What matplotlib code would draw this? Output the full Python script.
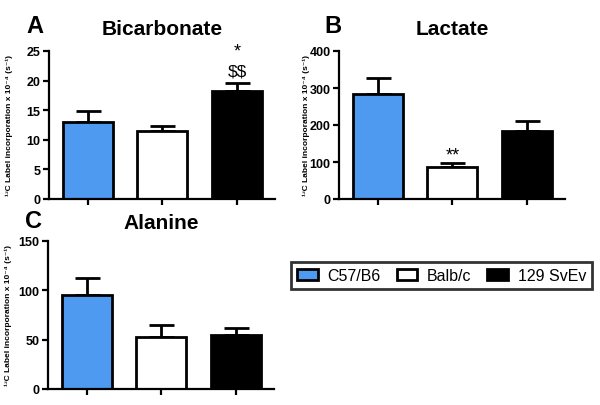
import matplotlib
matplotlib.use("Agg")
import matplotlib.pyplot as plt
from matplotlib.patches import Patch

plt.rcParams['font.family'] = ['Liberation Sans', 'DejaVu Sans']

strains = ['C57/B6', 'Balb/c', '129 SvEv']
colors = ['#4E9AF1', 'white', 'black']

bicarb = [13.0, 11.5, 18.2]
bicarb_err = [1.8, 0.8, 1.4]
lactate = [284, 87, 184]
lactate_err = [43, 10, 26]
alanine = [95, 53, 55]
alanine_err = [17, 12, 7]

ylabel = '¹³C Label incorporation x 10⁻⁴ (s⁻¹)'

fig = plt.figure(figsize=(6, 4.06), dpi=100)
W, H = 600, 406


def px_axes(l, t, r, b):
    return fig.add_axes([l / W, 1 - b / H, (r - l) / W, (b - t) / H])


def panel(ax, vals, errs, ymax, step, title, letter, letter_x, letter_y, tpad):
    x = range(len(vals))
    ax.bar(x, vals, width=0.67, color=colors, edgecolor='black', linewidth=2, zorder=2)
    ax.errorbar(x, vals, yerr=[[0] * len(vals), errs], fmt='none', ecolor='black',
                elinewidth=2, capsize=9, capthick=2, zorder=1)
    ax.set_xlim(-0.52, 2.51)
    ax.set_ylim(0, ymax)
    ax.set_yticks(range(0, ymax + 1, step))
    ax.set_xticks(list(x))
    ax.set_xticklabels([])
    for s in ['top', 'right']:
        ax.spines[s].set_visible(False)
    for s in ['left', 'bottom']:
        ax.spines[s].set_linewidth(1.6)
    ax.tick_params(width=1.6, length=4, labelsize=9, pad=2)
    for lb in ax.get_yticklabels():
        lb.set_fontweight('bold')
    ax.set_title(title, fontsize=15, fontweight='bold', pad=tpad)
    ax.text(letter_x, letter_y, letter, transform=ax.transAxes, fontsize=17,
            fontweight='bold', va='baseline')
    ax.set_ylabel(ylabel, fontsize=6, fontweight='bold')


axA = px_axes(49, 52, 275, 200)
panel(axA, bicarb, bicarb_err, 25, 5, 'Bicarbonate', 'A', -0.1, 1.128, 12)
axA.text(2, 21.6, r'\$\$', ha='center', va='center', fontsize=12.5)
axA.text(2, 25.0, '*', ha='center', va='center', fontsize=13, clip_on=False)
axA.yaxis.set_label_coords(-36 / 226, 0.5)

axB = px_axes(339, 52, 565, 200)
panel(axB, lactate, lactate_err, 400, 100, 'Lactate', 'B', -0.065, 1.128, 12)
axB.text(1, 118, '**', ha='center', va='center', fontsize=13)
axB.yaxis.set_label_coords(-29 / 226, 0.5)

axC = px_axes(48, 242, 274, 390)
panel(axC, alanine, alanine_err, 150, 50, 'Alanine', 'C', -0.1, 1.095, 9.5)
axC.yaxis.set_label_coords(-36 / 226, 0.5)

handles = [Patch(facecolor=c, edgecolor='black', linewidth=2) for c in colors]
leg = fig.legend(handles, strains, ncol=3, loc='center',
                 bbox_to_anchor=(287 / W, 1 - 300 / H, 309 / W, 47 / H),
                 fontsize=11.5, frameon=True, fancybox=False, edgecolor='black',
                 handlelength=1.3, handleheight=0.75, columnspacing=1.0,
                 handletextpad=0.6)
leg.get_frame().set_linewidth(2)

fig.savefig('out.png', dpi=100)
